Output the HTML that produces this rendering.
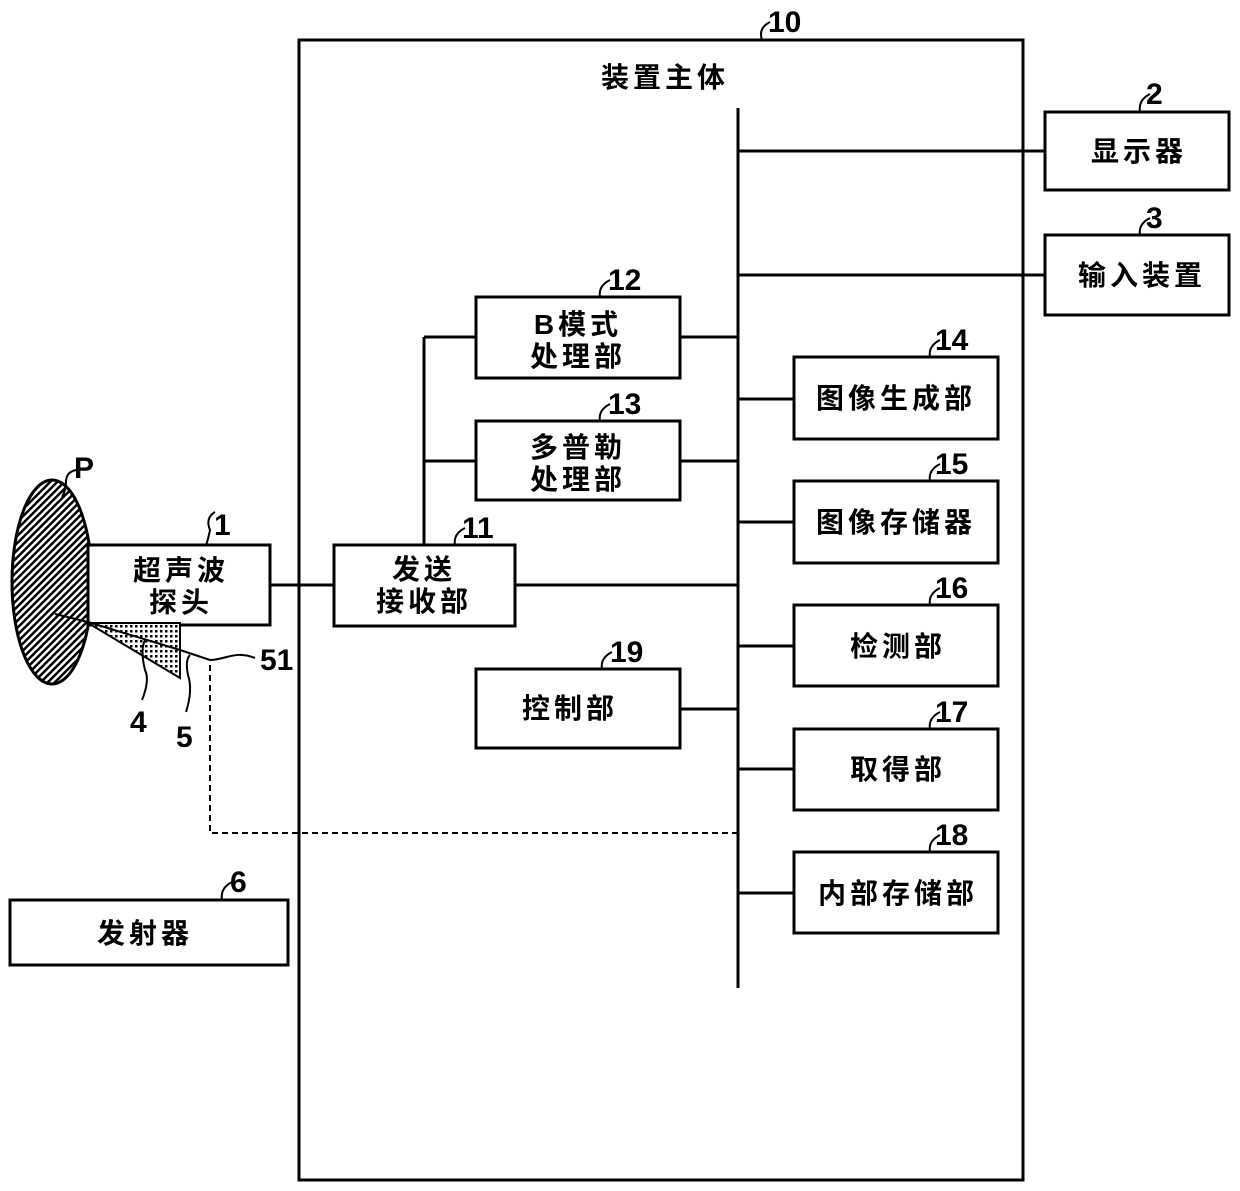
<!DOCTYPE html>
<html><head><meta charset="utf-8"><style>
html,body{margin:0;padding:0;background:#fff}
svg{display:block}
.t{font-family:"Liberation Sans","Noto Sans CJK SC",sans-serif;font-weight:bold;font-size:28px;letter-spacing:4px;fill:#000}
.n{font-family:"Liberation Sans",sans-serif;font-weight:bold;font-size:30px;fill:#000}
</style></head><body>
<svg width="1240" height="1191" viewBox="0 0 1240 1191" xmlns="http://www.w3.org/2000/svg">
<defs>
<pattern id="h" width="5" height="5" patternUnits="userSpaceOnUse" patternTransform="rotate(-45)">
<rect width="5" height="5" fill="#fff"/><rect width="5" height="2.5" fill="#000"/></pattern>
<pattern id="d" width="5" height="5" patternUnits="userSpaceOnUse">
<rect width="5" height="5" fill="#fff"/><rect width="2.5" height="2.5" fill="#000"/></pattern>
</defs>
<g fill="none" stroke="#000" stroke-width="3">
<rect x="299" y="40" width="724" height="1140"/>
<line x1="738" y1="108" x2="738" y2="988"/>
<rect x="1045" y="112" width="184" height="78"/>
<rect x="1045" y="235" width="184" height="80"/>
<line x1="738" y1="151" x2="1045" y2="151"/>
<line x1="738" y1="275" x2="1045" y2="275"/>
<rect x="476" y="297" width="204" height="81"/>
<rect x="476" y="421" width="204" height="79"/>
<line x1="680" y1="337" x2="738" y2="337"/>
<line x1="680" y1="461" x2="738" y2="461"/>
<line x1="424" y1="337" x2="424" y2="545"/>
<line x1="424" y1="337" x2="476" y2="337"/>
<line x1="424" y1="461" x2="476" y2="461"/>
<rect x="334" y="545" width="181" height="81"/>
<line x1="515" y1="585" x2="738" y2="585"/>
<line x1="270" y1="585" x2="334" y2="585"/>
<rect x="476" y="669" width="204" height="79"/>
<line x1="680" y1="709" x2="738" y2="709"/>
<rect x="794" y="357" width="204" height="82"/>
<rect x="794" y="481" width="204" height="82"/>
<rect x="794" y="605" width="204" height="81"/>
<rect x="794" y="729" width="204" height="81"/>
<rect x="794" y="852" width="204" height="81"/>
<line x1="738" y1="399" x2="794" y2="399"/>
<line x1="738" y1="522" x2="794" y2="522"/>
<line x1="738" y1="646" x2="794" y2="646"/>
<line x1="738" y1="769" x2="794" y2="769"/>
<line x1="738" y1="893" x2="794" y2="893"/>
<rect x="10" y="900" width="278" height="65"/>
<ellipse cx="52" cy="582" rx="40" ry="102" fill="url(#h)"/>
<rect x="88" y="545" width="182" height="80" fill="#fff"/>
<polygon points="88,623 180,623 180,678" fill="url(#d)" stroke-width="2"/>
<line x1="55" y1="614" x2="88" y2="622" stroke-width="2"/>
<line x1="88" y1="622" x2="180" y2="650" stroke-width="2"/>
<path d="M180,650 L210,660 C225,660 235,650 255,658" stroke-width="2"/>
<path d="M210,665 L210,833 L738,833" stroke-width="2" stroke-dasharray="6,4"/>
<g stroke-width="2">
<path d="M76,470 Q66,472 66,482 Q66,490 62,497"/>
<path d="M215,512 Q205,518 210,530 Q208,540 206,545"/>
<path d="M142,700 Q150,680 145,670 Q140,650 145,640"/>
<path d="M186,712 Q193,690 188,675 Q185,660 190,655"/>
<path d="M770,22 Q758,28 762,40"/>
<path d="M1150,94 Q1138,100 1140,112"/>
<path d="M1150,218 Q1138,224 1140,235"/>
<path d="M610,280 Q598,286 600,297"/>
<path d="M610,404 Q598,410 600,421"/>
<path d="M465,528 Q453,534 455,545"/>
<path d="M612,652 Q600,658 602,669"/>
<path d="M940,340 Q928,346 930,357"/>
<path d="M940,464 Q928,470 930,481"/>
<path d="M940,588 Q928,594 930,605"/>
<path d="M940,712 Q928,718 930,729"/>
<path d="M940,835 Q928,841 930,852"/>
<path d="M232,882 Q220,888 222,900"/>
</g>
</g>
<text class="t" x="665" y="87" text-anchor="middle">装置主体</text>
<text class="t" x="1139" y="161" text-anchor="middle">显示器</text>
<text class="t" x="1142" y="285" text-anchor="middle">输入装置</text>
<text class="t" x="578" y="334" text-anchor="middle">B模式</text>
<text class="t" x="578" y="366" text-anchor="middle">处理部</text>
<text class="t" x="578" y="457" text-anchor="middle">多普勒</text>
<text class="t" x="578" y="489" text-anchor="middle">处理部</text>
<text class="t" x="424" y="579" text-anchor="middle">发送</text>
<text class="t" x="424" y="611" text-anchor="middle">接收部</text>
<text class="t" x="181" y="580" text-anchor="middle">超声波</text>
<text class="t" x="181" y="612" text-anchor="middle">探头</text>
<text class="t" x="570" y="718" text-anchor="middle">控制部</text>
<text class="t" x="896" y="408" text-anchor="middle">图像生成部</text>
<text class="t" x="896" y="532" text-anchor="middle">图像存储器</text>
<text class="t" x="898" y="656" text-anchor="middle">检测部</text>
<text class="t" x="898" y="779" text-anchor="middle">取得部</text>
<text class="t" x="898" y="903" text-anchor="middle">内部存储部</text>
<text class="t" x="145" y="943" text-anchor="middle">发射器</text>
<text class="n" x="768" y="32">10</text>
<text class="n" x="1146" y="104">2</text>
<text class="n" x="1146" y="228">3</text>
<text class="n" x="608" y="290">12</text>
<text class="n" x="608" y="414">13</text>
<text class="n" x="462" y="538">11</text>
<text class="n" x="610" y="662">19</text>
<text class="n" x="935" y="350">14</text>
<text class="n" x="935" y="474">15</text>
<text class="n" x="935" y="598">16</text>
<text class="n" x="935" y="722">17</text>
<text class="n" x="935" y="845">18</text>
<text class="n" x="230" y="892">6</text>
<text class="n" x="214" y="535">1</text>
<text class="n" x="74" y="478">P</text>
<text class="n" x="130" y="732">4</text>
<text class="n" x="176" y="747">5</text>
<text class="n" x="260" y="670">51</text>
</svg>
</body></html>
